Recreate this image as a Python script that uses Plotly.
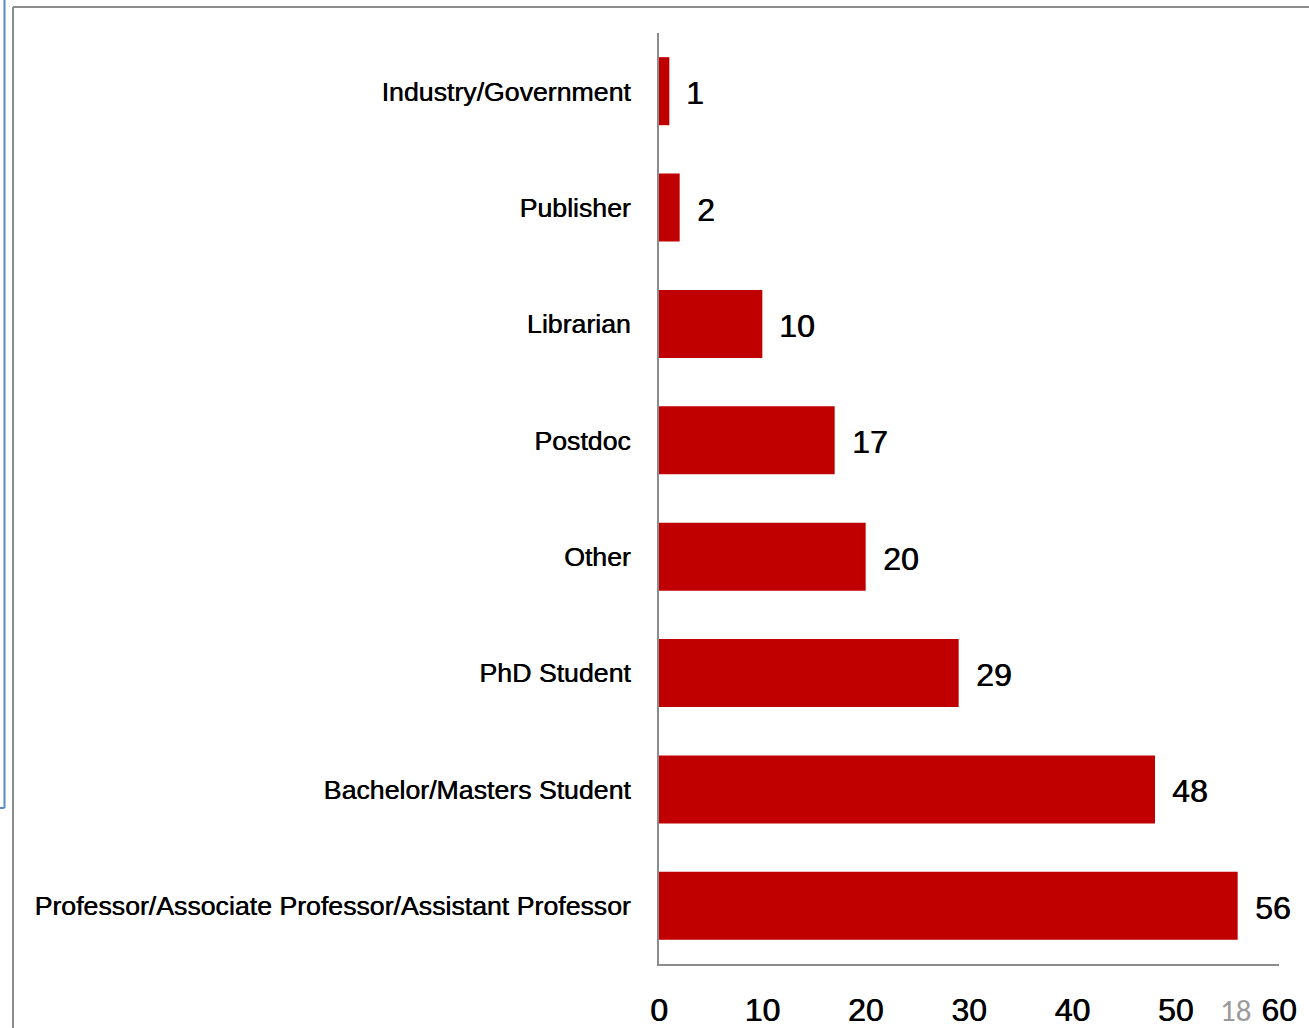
import plotly.graph_objects as go

categories = ["Industry/Government", "Publisher", "Librarian", "Postdoc", "Other",
              "PhD Student", "Bachelor/Masters Student",
              "Professor/Associate Professor/Assistant Professor"]
values = [1, 2, 10, 17, 20, 29, 48, 56]
x_ticks = [0, 10, 20, 30, 40, 50, 60]
page_number = "18"

W, H = 1309, 1028
L, R, T, B = 659, 30, 33, 64
pw, ph = W - L - R, H - T - B
SHADOW = "0.6px 0 0 #000"

def px(x):
    return (x - L) / pw

def py(y):
    return (H - B - y) / ph

fig = go.Figure()
fig.add_trace(go.Bar(
    x=values, y=categories, orientation="h",
    marker=dict(color="#c00000", line=dict(width=0)),
    width=0.585, hoverinfo="skip",
))

for c, v in zip(categories, values):
    fig.add_annotation(x=v, y=c, text=str(v), showarrow=False,
                       xanchor="left", yanchor="middle", xshift=15, yshift=-2,
                       font=dict(family="Liberation Sans, Arial", size=32, color="#000",
                                 shadow=SHADOW))

# slide frame lines
fig.add_shape(type="line", xref="paper", yref="paper",
              x0=px(13), x1=px(1310), y0=py(7), y1=py(7),
              line=dict(color="#8c8c8c", width=2))
fig.add_shape(type="line", xref="paper", yref="paper",
              x0=px(13), x1=px(13), y0=py(7), y1=py(1030),
              line=dict(color="#8c8c8c", width=2))
fig.add_shape(type="line", xref="paper", yref="paper",
              x0=px(4.5), x1=px(4.5), y0=py(-2), y1=py(808),
              line=dict(color="#5b8ac6", width=2))
fig.add_shape(type="line", xref="paper", yref="paper",
              x0=px(-2), x1=px(4.5), y0=py(808), y1=py(808),
              line=dict(color="#5b8ac6", width=2))

fig.add_annotation(xref="paper", yref="paper", x=px(1235), y=py(1010),
                   text=page_number, showarrow=False, xanchor="center", yanchor="middle",
                   font=dict(family="Carlito, Liberation Sans", size=31, color="#9a9a9a"))

fig.update_layout(
    width=W, height=H, autosize=False,
    margin=dict(l=L, r=R, t=T, b=B, pad=0, autoexpand=False),
    paper_bgcolor="white", plot_bgcolor="white",
    showlegend=False,
    font=dict(family="Liberation Sans, Arial", color="#000"),
    xaxis=dict(range=[0, 60], tickvals=x_ticks, showgrid=False, zeroline=False,
               showline=True, linecolor="#8c8c8c", linewidth=2, automargin=False,
               ticks="outside", ticklen=17, tickcolor="rgba(0,0,0,0)",
               tickfont=dict(size=32, color="#000", shadow=SHADOW), fixedrange=True),
    yaxis=dict(autorange="reversed", showgrid=False, zeroline=False,
               showline=True, linecolor="#8c8c8c", linewidth=2, automargin=False,
               ticks="outside", ticklen=21, tickcolor="rgba(0,0,0,0)",
               tickfont=dict(size=26.7, color="#000", shadow="0.5px 0 0 #000"),
               fixedrange=True),
)

fig.write_html("out.html", config={"displayModeBar": False},
               post_script="document.body.style.margin='0';document.body.style.overflow='hidden';")
